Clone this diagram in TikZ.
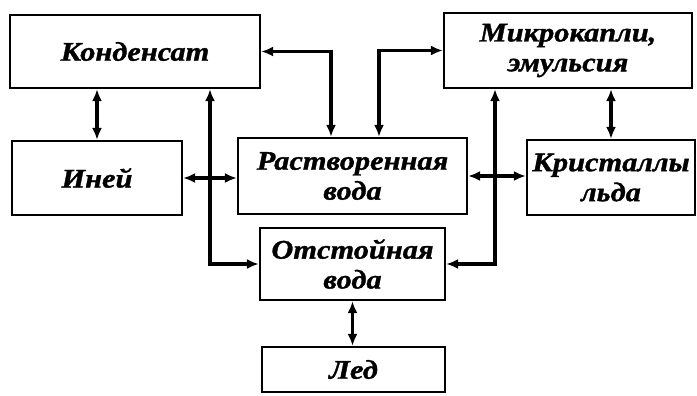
\documentclass[tikz,border=0pt]{standalone}
\usepackage{fontspec}
\setmainfont{Liberation Serif}[BoldItalicFeatures={FakeStretch=1.13,FakeBold=1.2}]
\usetikzlibrary{arrows.meta,calc}
\tikzset{
  block/.style={draw, line width=2.2pt, inner sep=0pt, align=center,
    font=\fontsize{27}{30}\selectfont\bfseries\itshape},
  conn/.style={line width=3.8pt, {Latex[length=12pt,width=10pt]}-{Latex[length=12pt,width=10pt]}}
}
\begin{document}
\begin{tikzpicture}[x=1bp,y=-1bp]
\useasboundingbox (0,0) rectangle (697,395);
% blocks
\node[block, minimum width=250bp, minimum height=73bp] (kond) at (135,51.5) {Конденсат};
\node[block, minimum width=170bp, minimum height=74bp] (iney) at (97,178) {Иней};
\node[block, minimum width=229bp, minimum height=76bp] (rast) at (352.5,176) {Растворенная\\вода};
\node[block, minimum width=248bp, minimum height=75bp] (mikro) at (568,50.5) {Микрокапли,\\эмульсия};
\node[block, minimum width=168bp, minimum height=75bp] (krist) at (611,177.5) {Кристаллы\\льда};
\node[block, minimum width=185bp, minimum height=72bp] (otst) at (352.5,264) {Отстойная\\вода};
\node[block, minimum width=183bp, minimum height=45bp] (led) at (353.5,369.5) {Лед};
% bends of the side risers
\coordinate (lj) at (210,262);
\coordinate (rj) at (495,262);
% connectors
\draw[conn] (kond.south -| iney.north) -- (iney.north);
\draw[conn] (kond.east) -| ($(rast.north)+(-21.5,0)$);
\draw[conn] (mikro.west) -| ($(rast.north)+(26.5,0)$);
\draw[conn] (mikro.south -| krist.north) -- (krist.north);
\draw[conn] (kond.south -| lj) |- (otst.west);
\draw[conn] (mikro.south -| rj) |- (otst.east);
\draw[conn] (iney.east) -- (iney.east -| rast.west);
\draw[conn] (rast.east) -- (rast.east -| krist.west);
\draw[conn] (otst.south) -- (otst.south |- led.north);
\end{tikzpicture}
\end{document}
